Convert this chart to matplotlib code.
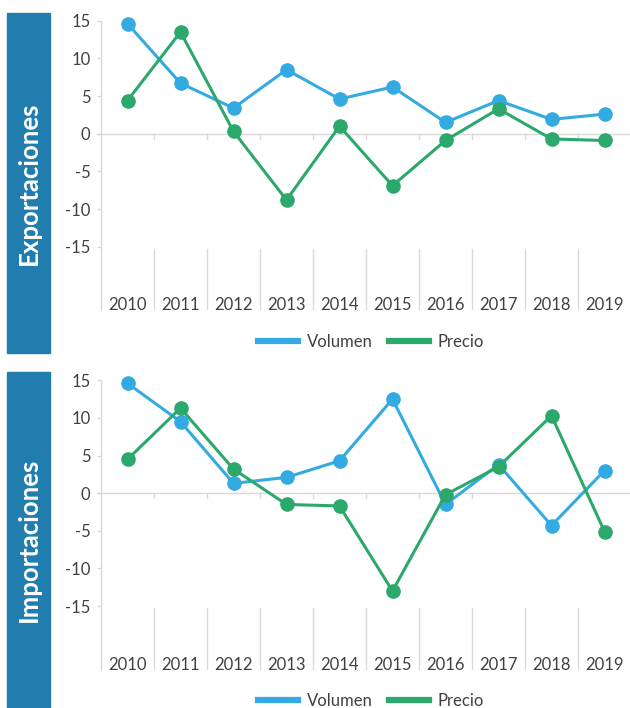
import matplotlib
matplotlib.use("Agg")
import matplotlib.pyplot as plt
from matplotlib.patches import Rectangle
from matplotlib.lines import Line2D

years = ["2010", "2011", "2012", "2013", "2014", "2015", "2016", "2017", "2018", "2019"]
exp_volumen = [14.6, 6.7, 3.4, 8.5, 4.6, 6.2, 1.5, 4.4, 1.9, 2.6]
exp_precio = [4.4, 13.5, 0.3, -8.8, 1.0, -6.9, -0.9, 3.3, -0.7, -0.9]
imp_volumen = [14.6, 9.5, 1.3, 2.1, 4.3, 12.5, -1.5, 3.8, -4.3, 3.0]
imp_precio = [4.5, 11.3, 3.2, -1.5, -1.7, -13.0, -0.2, 3.5, 10.3, -5.1]
yticks = [15, 10, 5, 0, -5, -10, -15]
panel_titles = ["Exportaciones", "Importaciones"]
series_names = ["Volumen", "Precio"]

BLUE = "#33AAE1"
GREEN = "#2BA86B"
SIDE = "#217DAE"
GRID = "#D9D9D9"
TXT = "#404040"
FONT = "Lato"

W, H = 630, 708
fig = plt.figure(figsize=(W / 100, H / 100), dpi=100)


def px_rect(x0, y0, x1, y1):
    return [x0 / W, 1 - y1 / H, (x1 - x0) / W, (y1 - y0) / H]


panels = [
    dict(rect=px_rect(101, 20.7, 631, 310), ylim=(-23.4, 15.0),
         side=(7, 13, 50, 353), legy=342, data=(exp_volumen, exp_precio)),
    dict(rect=px_rect(101, 380.3, 631, 670), ylim=(-23.5, 15.0),
         side=(7, 372, 50, 708), legy=701, data=(imp_volumen, imp_precio)),
]

n = len(years)
xs = list(range(n))

for title, p in zip(panel_titles, panels):
    ax = fig.add_axes(p["rect"])
    ax.set_xlim(-0.5, n - 0.5)
    ax.set_ylim(*p["ylim"])
    for s in ["top", "right", "bottom"]:
        ax.spines[s].set_visible(False)
    ax.spines["left"].set_color(GRID)
    ax.spines["left"].set_linewidth(1.0)

    # zero line
    ax.axhline(0, color=GRID, lw=1.0, xmin=-0.006, clip_on=False, zorder=1)
    # small ticks on zero line and category separators
    for b in range(1, n):
        xb = b - 0.5
        ax.plot([xb, xb], [0, -0.7], color=GRID, lw=1.0, zorder=1)
        ax.plot([xb, xb], [-15.3, p["ylim"][0]], color=GRID, lw=1.0, zorder=1)

    v, pr = p["data"]
    ax.plot(xs, v, color=BLUE, lw=2.2, marker="o", ms=9.5, zorder=3, clip_on=False)
    ax.plot(xs, pr, color=GREEN, lw=2.2, marker="o", ms=9.5, zorder=4, clip_on=False)

    ax.set_yticks(yticks)
    ax.set_yticklabels([str(t) for t in yticks], fontsize=12, color=TXT, family=FONT)
    ax.tick_params(axis="y", length=3, width=1.0, color=GRID, pad=4.5)

    ax.set_xticks(xs)
    ax.set_xticklabels(years, fontsize=12, color=TXT, family=FONT)
    ax.tick_params(axis="x", length=0, pad=-9)

    # side bar
    x0, y0, x1, y1 = p["side"]
    fig.patches.append(Rectangle((x0 / W, 1 - y1 / H), (x1 - x0) / W, (y1 - y0) / H,
                                 transform=fig.transFigure, color=SIDE, zorder=0))
    fig.text((x0 + x1) / 2 / W, 1 - (y0 + y1) / 2 / H, title, rotation=90,
             ha="center", va="center", color="white", fontsize=18.5,
             fontweight="bold", family=FONT)

    handles = [Line2D([], [], color=BLUE, lw=4.5), Line2D([], [], color=GREEN, lw=4.5)]
    fig.legend(handles, series_names, loc="center", bbox_to_anchor=(371 / W, 1 - p["legy"] / H),
               ncol=2, frameon=False, prop={"family": FONT, "size": 12},
               labelcolor=TXT, handlelength=2.4, handletextpad=0.5, columnspacing=1.0)

fig.savefig("out.png", dpi=100)
